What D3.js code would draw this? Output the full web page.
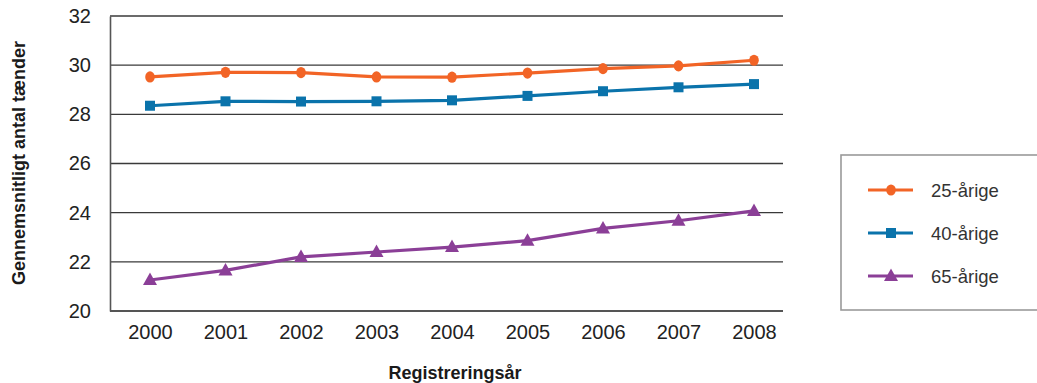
<!DOCTYPE html>
<html>
<head>
<meta charset="utf-8">
<script src="https://cdn.jsdelivr.net/npm/d3@7"></script>
<style>
  html, body { margin: 0; padding: 0; background: #fff; }
  svg { display: block; font-family: "Liberation Sans", Arial, Helvetica, sans-serif; }
</style>
</head>
<body>
<svg id="chart" width="1037" height="383"></svg>
<script>
// Gennemsnitligt antal tænder efter aldersgruppe og registreringsår
const years = ["2000", "2001", "2002", "2003", "2004", "2005", "2006", "2007", "2008"];
const age25 = [29.52, 29.71, 29.70, 29.52, 29.51, 29.68, 29.86, 29.97, 30.20];
const age40 = [28.35, 28.53, 28.52, 28.53, 28.57, 28.75, 28.94, 29.10, 29.23];
const age65 = [21.26, 21.65, 22.20, 22.40, 22.60, 22.86, 23.36, 23.67, 24.07];
const yTicks = [20, 22, 24, 26, 28, 30, 32];
const seriesNames = ["25-årige", "40-årige", "65-årige"];

const series = [
  { name: seriesNames[0], values: age25, color: "#f26426", symbol: "circle" },
  { name: seriesNames[1], values: age40, color: "#0a73ab", symbol: "square" },
  { name: seriesNames[2], values: age65, color: "#8b3f97", symbol: "triangle" }
];

const svg = d3.select("#chart");
const plot = { left: 110, right: 783, top: 16, bottom: 311 };

const x = d3.scalePoint().domain(years).range([plot.left + 40, plot.right - 29]);
const y = d3.scaleLinear().domain([20, 32]).range([plot.bottom, plot.top]);

// horizontal gridlines
svg.append("g")
  .selectAll("line")
  .data(yTicks.filter(t => t !== 20))
  .join("line")
  .attr("x1", plot.left).attr("x2", plot.right)
  .attr("y1", d => y(d)).attr("y2", d => y(d))
  .attr("stroke", "#3a3a3a").attr("stroke-width", 1.4);

// y axis
const yAxis = svg.append("g")
  .attr("transform", `translate(${plot.left},0)`)
  .call(d3.axisLeft(y).tickValues(yTicks).tickSize(0).tickPadding(19));
yAxis.select(".domain").attr("stroke", "#555").attr("stroke-width", 1.6);
yAxis.selectAll("text")
  .attr("font-size", 20).attr("fill", "#222")
  .attr("font-family", "Liberation Sans, Arial, sans-serif");

// x axis
const xAxis = svg.append("g")
  .attr("transform", `translate(0,${plot.bottom})`)
  .call(d3.axisBottom(x).tickSize(0).tickPadding(14));
xAxis.select(".domain")
  .attr("d", `M${plot.left},0H${plot.right}`)
  .attr("stroke", "#555").attr("stroke-width", 1.8);
xAxis.selectAll("text")
  .attr("font-size", 20).attr("fill", "#222")
  .attr("font-family", "Liberation Sans, Arial, sans-serif");

// axis titles
svg.append("text")
  .attr("transform", `translate(25,${163}) rotate(-90)`)
  .attr("text-anchor", "middle")
  .attr("font-size", 18).attr("font-weight", "bold").attr("fill", "#1a1a1a")
  .text("Gennemsnitligt antal tænder");

svg.append("text")
  .attr("x", 455).attr("y", 379)
  .attr("text-anchor", "middle")
  .attr("font-size", 18).attr("font-weight", "bold").attr("fill", "#1a1a1a")
  .text("Registreringsår");

// marker drawing helper
function drawMarker(sel, symbol, color) {
  if (symbol === "circle") {
    sel.append("ellipse").attr("rx", 4.8).attr("ry", 5.6).attr("fill", color);
  } else if (symbol === "square") {
    sel.append("rect").attr("x", -5).attr("y", -5).attr("width", 10).attr("height", 10).attr("fill", color);
  } else {
    sel.append("path").attr("d", "M0,-7.5L7,5L-7,5Z").attr("fill", color);
  }
}

const line = d3.line().x((d, i) => x(years[i])).y(d => y(d));

series.forEach(s => {
  const g = svg.append("g");
  g.append("path")
    .datum(s.values)
    .attr("d", line)
    .attr("fill", "none")
    .attr("stroke", s.color)
    .attr("stroke-width", 3.2)
    .attr("stroke-linejoin", "round");
  s.values.forEach((v, i) => {
    const m = g.append("g").attr("transform", `translate(${x(years[i])},${y(v)})`);
    drawMarker(m, s.symbol, s.color);
  });
});

// legend
const legend = svg.append("g");
legend.append("rect")
  .attr("x", 841).attr("y", 155).attr("width", 210).attr("height", 155)
  .attr("fill", "#fff").attr("stroke", "#9a9a9a").attr("stroke-width", 1.6);

const legendY = d3.scalePoint().domain(seriesNames).range([190, 276]);
series.forEach(s => {
  const ly = legendY(s.name);
  legend.append("line")
    .attr("x1", 868).attr("x2", 913).attr("y1", ly).attr("y2", ly)
    .attr("stroke", s.color).attr("stroke-width", 3.2);
  const m = legend.append("g").attr("transform", `translate(891,${ly})`);
  drawMarker(m, s.symbol, s.color);
  legend.append("text")
    .attr("x", 931).attr("y", ly + 6.5)
    .attr("font-size", 18.5).attr("fill", "#333")
    .text(s.name);
});
</script>
</body>
</html>
